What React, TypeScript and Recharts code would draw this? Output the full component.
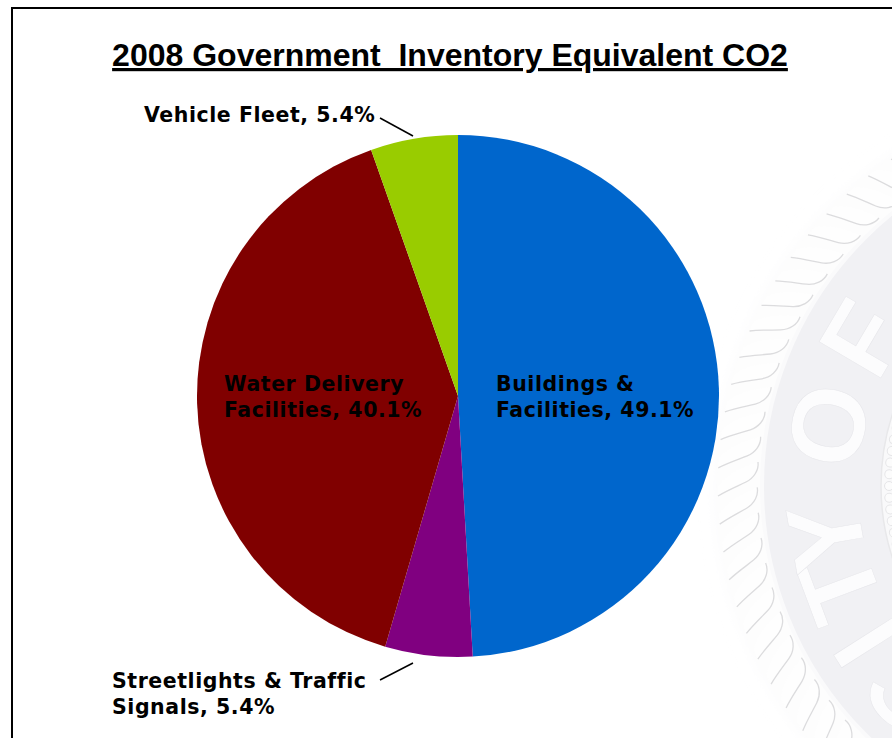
import * as React from 'react'
import { PieChart, Pie, Cell } from 'recharts'

const categories = ['Buildings & Facilities', 'Streetlights & Traffic Signals', 'Water Delivery Facilities', 'Vehicle Fleet']
const shares = [49.1, 5.4, 40.1, 5.4]
const colors = ['#0066CC', '#800080', '#800000', '#99CC00']
const labelLines = [
  ['Buildings &', 'Facilities, 49.1%'],
  ['Streetlights & Traffic', 'Signals, 5.4%'],
  ['Water Delivery', 'Facilities, 40.1%'],
  ['Vehicle Fleet, 5.4%'],
]

const chartData = categories.map((name, i) => ({ name, value: shares[i] }))

const LABEL_FONT = '"DejaVu Sans", Verdana, sans-serif'

// where each label sits, by slice index
const LABEL_ANCHORS = [
  { x: 496, y: 391 },
  { x: 112, y: 688 },
  { x: 224, y: 391 },
  { x: 144, y: 122 },
]
const LEADERS: Record<number, number[]> = {
  1: [380, 680, 413, 663],
  3: [380, 118, 413, 136],
}

const renderLabel = ({ index }: { index: number }) => {
  const at = LABEL_ANCHORS[index]
  const leader = LEADERS[index]
  return (
    <g key={index}>
      {leader && (
        <line x1={leader[0]} y1={leader[1]} x2={leader[2]} y2={leader[3]} stroke="#000" strokeWidth={1.5} />
      )}
      {labelLines[index].map((line, i) => (
        <text
          key={line}
          x={at.x}
          y={at.y + i * 26}
          fontFamily={LABEL_FONT}
          fontWeight={700}
          fontSize={20.5}
          letterSpacing={0.55}
          fill="#000"
        >
          {line}
        </text>
      ))}
    </g>
  )
}

// faint embossed city seal behind the chart
const SEAL = { cx: 1113, cy: 486 }
const SEAL_LETTERS = [
  { ch: 'C', deg: 45.5 },
  { ch: 'I', deg: 32.5 },
  { ch: 'T', deg: 20.5 },
  { ch: 'Y', deg: 10 },
  { ch: 'O', deg: -12 },
  { ch: 'F', deg: -30.5 },
]

const RopeStrand = ({ angle }: { angle: number }) => (
  <g transform={`rotate(${angle} ${SEAL.cx} ${SEAL.cy}) translate(${SEAL.cx - 375} ${SEAL.cy})`}>
    <path d="M -20 0 C -10 -14 8 -20 20 -24 C 21 -16 16 -8 8 -4 C 0 0 -10 4 -20 10 Z" fill="#fefefe" />
    <path d="M -20 10 C -10 4 0 0 8 -4 C 16 -8 21 -16 20 -24" fill="none" stroke="#dcdcde" strokeWidth={1.3} />
  </g>
)

const Seal = () => {
  const strands = Array.from({ length: 88 }, (_, i) => i * (360 / 88))
  const beads = Array.from({ length: 120 }, (_, i) => i * 3)
  const { cx, cy } = SEAL
  return (
    <svg width={892} height={738} style={{ position: 'absolute', left: 0, top: 0 }}>
      <defs>
        <filter id="sealGlow" x="-20%" y="-20%" width="140%" height="140%">
          <feGaussianBlur stdDeviation="10" />
        </filter>
      </defs>
      <circle cx={cx} cy={cy} r={392} fill="#f8f8f9" filter="url(#sealGlow)" />
      <circle cx={cx} cy={cy} r={396} fill="#fdfdfd" />
      {strands.map(a => <RopeStrand key={a} angle={a} />)}
      <circle cx={cx} cy={cy} r={351} fill="#f1f1f4" stroke="#fafafb" strokeWidth={4} />
      <circle cx={cx} cy={cy} r={232} fill="#f9f9fa" stroke="#e8e8ea" strokeWidth={1.5} />
      {beads.map(a => (
        <circle
          key={a}
          cx={cx - 224}
          cy={cy}
          r={4.5}
          fill="#fcfcfc"
          stroke="#e6e6e8"
          transform={`rotate(${a} ${cx} ${cy})`}
        />
      ))}
      {SEAL_LETTERS.map(({ ch, deg }) => {
        const rad = (deg * Math.PI) / 180
        const x = cx - 293 * Math.cos(rad)
        const y = cy + 293 * Math.sin(rad)
        return (
          <text
            key={ch}
            transform={`translate(${x} ${y}) rotate(${-90 - deg})`}
            y={38}
            textAnchor="middle"
            fontFamily="'Liberation Sans', Arial, sans-serif"
            fontWeight={700}
            fontSize={104}
            fill="#fcfcfd"
            stroke="#e6e6ea"
            strokeWidth={0.5}
          >
            {ch}
          </text>
        )
      })}
    </svg>
  )
}

export default function App() {
  return (
    <div style={{ position: 'absolute', left: 0, top: 0, width: 892, height: 738, overflow: 'hidden', background: '#fff' }}>
      <Seal />
      <div style={{ position: 'absolute', left: 11, top: 7, width: 900, height: 800, border: '2px solid #000' }} />
      <div style={{ position: 'absolute', left: 0, top: 0 }}>
        <PieChart width={892} height={738} margin={{ top: 0, right: 0, bottom: 0, left: 0 }}>
          <text
            x={450}
            y={66}
            textAnchor="middle"
            fontFamily="'Liberation Sans', Arial, sans-serif"
            fontWeight={700}
            fontSize={32}
            textDecoration="underline"
            fill="#000"
            xmlSpace="preserve"
          >
            2008 Government  Inventory Equivalent CO2
          </text>
          <Pie
            data={chartData}
            dataKey="value"
            nameKey="name"
            cx={458}
            cy={396}
            innerRadius={0}
            outerRadius={261}
            startAngle={90}
            endAngle={-270}
            stroke="none"
            label={renderLabel}
            labelLine={false}
            isAnimationActive={false}
          >
            {chartData.map((d, i) => <Cell key={d.name} fill={colors[i]} />)}
          </Pie>
        </PieChart>
      </div>
    </div>
  )
}
